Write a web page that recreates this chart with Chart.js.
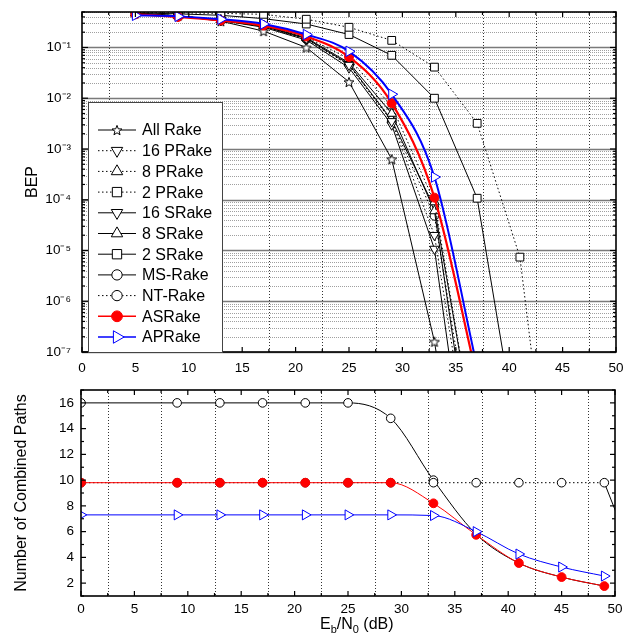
<!DOCTYPE html>
<html>
<head>
<meta charset="utf-8">
<script src="https://cdn.jsdelivr.net/npm/chart.js@4.4.0/dist/chart.umd.min.js"></script>
<style>
  html, body { margin: 0; padding: 0; background: #fff; }
  #wrap { position: relative; width: 625px; height: 637px; }
  #bepBox { position: absolute; left: 0; top: 0; width: 625px; height: 380px; }
  #pathBox { position: absolute; left: 0; top: 380px; width: 625px; height: 257px; }
</style>
</head>
<body>
<div id="wrap">
  <div id="bepBox"><canvas id="bepChart"></canvas></div>
  <div id="pathBox"><canvas id="pathChart"></canvas></div>
</div>
<script>
// === BEP vs Eb/N0 (top) + number of combined paths (bottom) ===

// --- Top panel: Eb/N0 points (dB) ---
const ebn0 = [5, 9, 13, 17, 21, 25, 29, 33, 37, 41, 45];

// BEP values (null = no point)
const allRake = [0.47, 0.42, 0.33, 0.21, 0.10, 0.021, 6.3e-4, 1.6e-7, 1e-12, null, null];
const pRake16 = [0.47, 0.42, 0.35, 0.26, 0.15, 0.045, 3.5e-3, 2e-5, 1e-10, null, null];
const pRake8  = [0.47, 0.42, 0.35, 0.27, 0.16, 0.06, 7e-3, 9e-5, 1e-9, null, null];
const pRake2  = [0.49, 0.48, 0.47, 0.45, 0.36, 0.25, 0.138, 0.041, 3.2e-3, 7.4e-6, 1e-12];
const sRake16 = [0.47, 0.42, 0.34, 0.25, 0.14, 0.04, 3e-3, 1.07e-5, 1e-11, null, null];
const sRake8  = [0.47, 0.42, 0.35, 0.27, 0.155, 0.05, 5e-3, 6e-5, 1e-10, null, null];
const sRake2  = [0.48, 0.46, 0.43, 0.37, 0.29, 0.18, 0.07, 0.01, 1.07e-4, 1e-9, null];
const msRake  = [0.46, 0.41, 0.34, 0.26, 0.15, 0.047, 3.7e-3, 7e-5, 1e-9, null, null];
const ntRake  = [0.46, 0.41, 0.34, 0.26, 0.145, 0.045, 3.5e-3, 4.8e-5, 3e-10, null, null];
const asRake  = [0.45, 0.40, 0.34, 0.27, 0.165, 0.065, 8e-3, 1.1e-4, 3e-8, null, null];
const apRake  = [0.43, 0.41, 0.36, 0.29, 0.18, 0.084, 0.012, 2.8e-4, 5e-8, null, null];

const bepExponents = [-1, -2, -3, -4, -5, -6, -7];

// --- Bottom panel: number of combined paths ---
const ebn0Paths = [0, 9, 13, 17, 21, 25, 29, 33, 37, 41, 45, 49];
const msPaths = [16, 16, 16, 16, 16, 16, 14.8, 10.0, 5.8, 3.56, 2.47, 1.77];
const ntPaths = [9.8, 9.8, 9.8, 9.8, 9.8, 9.8, 9.8, 9.8, 9.8, 9.8, 9.8, 9.8];
const asPaths = [9.8, 9.8, 9.8, 9.8, 9.8, 9.8, 9.8, 8.2, 5.75, 3.56, 2.47, 1.77];
const apPaths = [7.3, 7.3, 7.3, 7.3, 7.3, 7.3, 7.3, 7.25, 6.0, 4.26, 3.25, 2.55];
const ntTailX = [49, 51];
const ntTailY = [9.8, 5.6];

const pathTicks = [2, 4, 6, 8, 10, 12, 14, 16];
const xTickStep = 5;

// --- Helpers ---
const FONT = "'Liberation Sans', Arial, Helvetica, sans-serif";
Chart.defaults.font.family = FONT;
Chart.defaults.color = '#000';

function pts(xs, ys) {
  return xs.map((x, i) => ({ x: x, y: ys[i] })).filter(p => p.y !== null);
}

const SUP = { '-': '\u207B', '0': '\u2070', '1': '\u00B9', '2': '\u00B2', '3': '\u00B3',
  '4': '\u2074', '5': '\u2075', '6': '\u2076', '7': '\u2077', '8': '\u2078', '9': '\u2079' };
function sup(n) { return String(n).split('').map(c => SUP[c]).join(''); }

// hollow 5-point star used as a marker
function starImage(size) {
  const c = document.createElement('canvas');
  c.width = size; c.height = size;
  const g = c.getContext('2d');
  const cx = size / 2, cy = size / 2 + 0.6, ro = size / 2 - 0.8, ri = ro * 0.42;
  g.beginPath();
  for (let i = 0; i < 10; i++) {
    const r = i % 2 ? ri : ro;
    const a = -Math.PI / 2 + i * Math.PI / 5;
    g.lineTo(cx + r * Math.cos(a), cy + r * Math.sin(a));
  }
  g.closePath();
  g.fillStyle = '#fff'; g.fill();
  g.strokeStyle = '#000'; g.lineWidth = 1; g.stroke();
  return c;
}
const STAR = starImage(12);
const DOT = [1.5, 2.5];

function series(label, xs, ys, o) {
  return Object.assign({
    label: label, data: pts(xs, ys),
    borderColor: '#000', borderWidth: 1, backgroundColor: '#fff',
    pointBorderColor: '#000', pointBackgroundColor: '#fff', pointBorderWidth: 1,
    pointStyle: 'circle', pointRadius: 4.5, pointHoverRadius: 4.5, pointRotation: 0,
    tension: 0, clip: 0, order: 2
  }, o);
}

// fixed axis size, no label overhang padding
function fixSize(w, h) {
  return s => {
    if (w !== null) s.width = w;
    if (h !== null) s.height = h;
    s.paddingTop = 0; s.paddingBottom = 0; s.paddingLeft = 0; s.paddingRight = 0;
  };
}

// --- shared drawing plugin: grid, inward ticks, frame ---
function drawLine(ctx, x1, y1, x2, y2) {
  ctx.beginPath(); ctx.moveTo(x1, y1); ctx.lineTo(x2, y2); ctx.stroke();
}

const gridFrame = {
  id: 'gridFrame',
  beforeDatasetsDraw(chart, args, opts) {
    const { ctx, chartArea: a, scales: { x, y } } = chart;
    ctx.save();
    // horizontal log grid (top panel only)
    if (opts.logGrid) {
      for (let e = -7; e <= -1; e++) {
        for (let m = 1; m <= 9; m++) {
          const v = m * Math.pow(10, e);
          if (v > y.max) continue;
          const py = Math.round(y.getPixelForValue(v)) + 0.5;
          if (m === 1) {
            ctx.setLineDash([]); ctx.strokeStyle = '#7a7a7a'; ctx.lineWidth = 1.6;
          } else {
            ctx.setLineDash([1, 1]); ctx.strokeStyle = '#a0a0a0'; ctx.lineWidth = 1;
          }
          drawLine(ctx, a.left, py, a.right, py);
        }
      }
    }
    // vertical dotted grid at 2.5, 7.5, ...
    ctx.setLineDash([1, 2]); ctx.strokeStyle = '#333'; ctx.lineWidth = 1;
    for (let v = 2.5; v < 50; v += 5) {
      const px = Math.round(x.getPixelForValue(v)) + 0.5;
      drawLine(ctx, px, a.top, px, a.bottom);
    }
    ctx.restore();
  },
  afterDatasetsDraw(chart, args, opts) {
    const { ctx, chartArea: a, scales: { x, y } } = chart;
    ctx.save();
    ctx.setLineDash([]); ctx.strokeStyle = '#000'; ctx.lineWidth = 1.2;
    // x ticks, inward, bottom + top
    for (let v = 0; v <= 50; v += 2.5) {
      const px = x.getPixelForValue(v);
      const len = v % 5 === 0 ? 5 : 3;
      drawLine(ctx, px, a.bottom, px, a.bottom - len);
      drawLine(ctx, px, a.top, px, a.top + len);
    }
    // y ticks, inward, left + right
    if (opts.logGrid) {
      for (let e = -7; e <= -1; e++) {
        for (let m = 1; m <= 9; m++) {
          const v = m * Math.pow(10, e);
          if (v > y.max) continue;
          const py = y.getPixelForValue(v);
          const len = m === 1 ? 6 : 3;
          drawLine(ctx, a.left, py, a.left + len, py);
          drawLine(ctx, a.right, py, a.right - len, py);
        }
      }
    } else {
      for (let v = Math.ceil(y.min); v <= y.max; v++) {
        const py = y.getPixelForValue(v);
        const len = v % 2 === 0 ? 5 : 3;
        drawLine(ctx, a.left, py, a.left + len, py);
        drawLine(ctx, a.right, py, a.right - len, py);
      }
    }
    ctx.lineWidth = 1.6;
    ctx.strokeRect(a.left, a.top, a.right - a.left, a.bottom - a.top);
    ctx.restore();
  }
};

// --- custom legend (line sample + marker) for the top panel ---
const rakeLegend = {
  id: 'rakeLegend',
  afterDraw(chart, args, opts) {
    if (!opts.show) return;
    const ctx = chart.ctx;
    const box = opts.box;
    ctx.save();
    ctx.fillStyle = '#fff';
    ctx.fillRect(box.x, box.y, box.w, box.h);
    ctx.strokeStyle = '#444'; ctx.lineWidth = 1;
    ctx.strokeRect(box.x + 0.5, box.y + 0.5, box.w, box.h);
    chart.data.datasets.forEach((ds, i) => {
      const yy = opts.firstRow + i * opts.rowGap;
      ctx.setLineDash(ds.borderDash || []);
      ctx.strokeStyle = ds.borderColor;
      ctx.lineWidth = Math.min(ds.borderWidth, 1.6);
      drawLine(ctx, opts.lineX1, yy, opts.lineX2, yy);
      ctx.setLineDash([]);
      ctx.fillStyle = ds.pointBackgroundColor;
      ctx.strokeStyle = ds.pointBorderColor;
      ctx.lineWidth = 1;
      Chart.helpers.drawPoint(ctx, {
        pointStyle: ds.pointStyle, rotation: ds.pointRotation,
        radius: ds.pointRadius * 1.2, borderWidth: 1
      }, (opts.lineX1 + opts.lineX2) / 2, yy);
      ctx.fillStyle = '#000';
      ctx.font = '16px ' + FONT;
      ctx.textBaseline = 'middle';
      ctx.textAlign = 'left';
      ctx.fillText(ds.label, opts.textX, yy + 1);
    });
    ctx.restore();
  }
};

// --- x title with subscripts for the bottom panel ---
const ebTitle = {
  id: 'ebTitle',
  afterDraw(chart, args, opts) {
    if (!opts.show) return;
    const ctx = chart.ctx;
    ctx.save();
    ctx.fillStyle = '#000';
    ctx.textBaseline = 'alphabetic';
    ctx.textAlign = 'left';
    const parts = [['E', 16, 0], ['b', 11, 4], ['/N', 16, 0], ['0', 11, 4], [' (dB)', 16, 0]];
    let cx = opts.x;
    parts.forEach(p => {
      ctx.font = p[1] + 'px ' + FONT;
      ctx.fillText(p[0], cx, opts.y + p[2]);
      cx += ctx.measureText(p[0]).width;
    });
    ctx.restore();
  }
};

// --- Top chart: BEP ---
new Chart(document.getElementById('bepChart'), {
  type: 'line',
  data: {
    datasets: [
      series('All Rake', ebn0, allRake, { pointStyle: STAR, pointRadius: 6 }),
      series('16 PRake', ebn0, pRake16, { borderDash: DOT, pointStyle: 'triangle', pointRotation: 180, pointRadius: 5.5 }),
      series('8 PRake', ebn0, pRake8, { borderDash: DOT, pointStyle: 'triangle', pointRadius: 5.5 }),
      series('2 PRake', ebn0, pRake2, { borderDash: DOT, pointStyle: 'rect', pointRadius: 5.5 }),
      series('16 SRake', ebn0, sRake16, { pointStyle: 'triangle', pointRotation: 180, pointRadius: 5.5 }),
      series('8 SRake', ebn0, sRake8, { pointStyle: 'triangle', pointRadius: 5.5 }),
      series('2 SRake', ebn0, sRake2, { pointStyle: 'rect', pointRadius: 5.5 }),
      series('MS-Rake', ebn0, msRake, { pointStyle: 'circle', pointRadius: 4.3 }),
      series('NT-Rake', ebn0, ntRake, { borderDash: DOT, pointStyle: 'circle', pointRadius: 4.3 }),
      series('ASRake', ebn0, asRake, {
        borderColor: '#ff0000', borderWidth: 2.2, pointBorderColor: '#ff0000', pointBackgroundColor: '#ff0000',
        pointRadius: 4.5, cubicInterpolationMode: 'monotone', order: 1
      }),
      series('APRake', ebn0, apRake, {
        borderColor: '#0000ff', borderWidth: 2, pointBorderColor: '#0000ff', pointBackgroundColor: '#fff',
        pointStyle: 'triangle', pointRotation: 90, pointRadius: 6, cubicInterpolationMode: 'monotone', order: 0
      })
    ]
  },
  options: {
    responsive: true, maintainAspectRatio: false, animation: false,
    layout: { padding: { top: 12, right: 9, left: 0, bottom: 0 } },
    plugins: {
      legend: { display: false }, tooltip: { enabled: false },
      gridFrame: { logGrid: true },
      rakeLegend: { show: true, box: { x: 88, y: 102, w: 134, h: 250 },
        firstRow: 130, rowGap: 20.7, lineX1: 98, lineX2: 136, textX: 142 },
      ebTitle: { show: false }
    },
    scales: {
      x: {
        type: 'linear', min: 0, max: 50,
        grid: { display: false, drawTicks: false }, border: { display: false },
        ticks: { stepSize: xTickStep, padding: 8, font: { size: 13.5 } },
        afterFit: fixSize(null, 28)
      },
      y: {
        type: 'logarithmic', min: 1e-7, max: 0.5,
        grid: { display: false, drawTicks: false }, border: { display: false },
        ticks: {
          autoSkip: false, padding: 11, font: { size: 13.5 },
          callback: v => {
            const e = Math.round(Math.log10(v));
            return (Math.abs(Math.log10(v) - e) < 1e-9 && bepExponents.includes(e)) ? '10' + sup(e) : '';
          }
        },
        title: { display: true, text: 'BEP', font: { size: 16 }, padding: { top: 23, bottom: 0 } },
        afterFit: fixSize(82, null)
      }
    }
  },
  plugins: [gridFrame, rakeLegend, ebTitle]
});

// --- Bottom chart: number of combined paths ---
new Chart(document.getElementById('pathChart'), {
  type: 'line',
  data: {
    datasets: [
      series('APRake', ebn0Paths, apPaths, {
        borderColor: '#0000ff', pointBorderColor: '#0000ff', pointBackgroundColor: '#fff',
        pointStyle: 'triangle', pointRotation: 90, pointRadius: 5.8, cubicInterpolationMode: 'monotone', order: 0
      }),
      series('ASRake', ebn0Paths, asPaths, {
        borderColor: '#ff0000', pointBorderColor: '#ff0000', pointBackgroundColor: '#ff0000',
        pointRadius: 4.4, cubicInterpolationMode: 'monotone', order: 1
      }),
      series('NT-Rake', ebn0Paths, ntPaths, { borderDash: DOT, pointRadius: 4.3, order: 2 }),
      series('NT-Rake tail', ntTailX, ntTailY, { pointRadius: 0, order: 2 }),
      series('MS-Rake', ebn0Paths, msPaths, {
        pointRadius: ctx => (ctx.raw && ctx.raw.x > 33) ? 0 : 4.3,
        cubicInterpolationMode: 'monotone', order: 3
      })
    ]
  },
  options: {
    responsive: true, maintainAspectRatio: false, animation: false,
    layout: { padding: { top: 10, right: 10, left: 0, bottom: 0 } },
    plugins: {
      legend: { display: false }, tooltip: { enabled: false },
      gridFrame: { logGrid: false },
      rakeLegend: { show: false },
      ebTitle: { show: true, x: 320, y: 249 }
    },
    scales: {
      x: {
        type: 'linear', min: 0, max: 50,
        grid: { display: false, drawTicks: false }, border: { display: false },
        ticks: { stepSize: xTickStep, padding: 5, font: { size: 13.5 } },
        afterFit: fixSize(null, 41)
      },
      y: {
        type: 'linear', min: 1, max: 17,
        grid: { display: false, drawTicks: false }, border: { display: false },
        ticks: {
          autoSkip: false, stepSize: 1, padding: 7, font: { size: 13.5 },
          callback: v => pathTicks.includes(v) ? String(v) : ''
        },
        title: { display: true, text: 'Number of Combined Paths', font: { size: 16 }, padding: { top: 12, bottom: 0 } },
        afterFit: fixSize(81, null)
      }
    }
  },
  plugins: [gridFrame, rakeLegend, ebTitle]
});
</script>
</body>
</html>
